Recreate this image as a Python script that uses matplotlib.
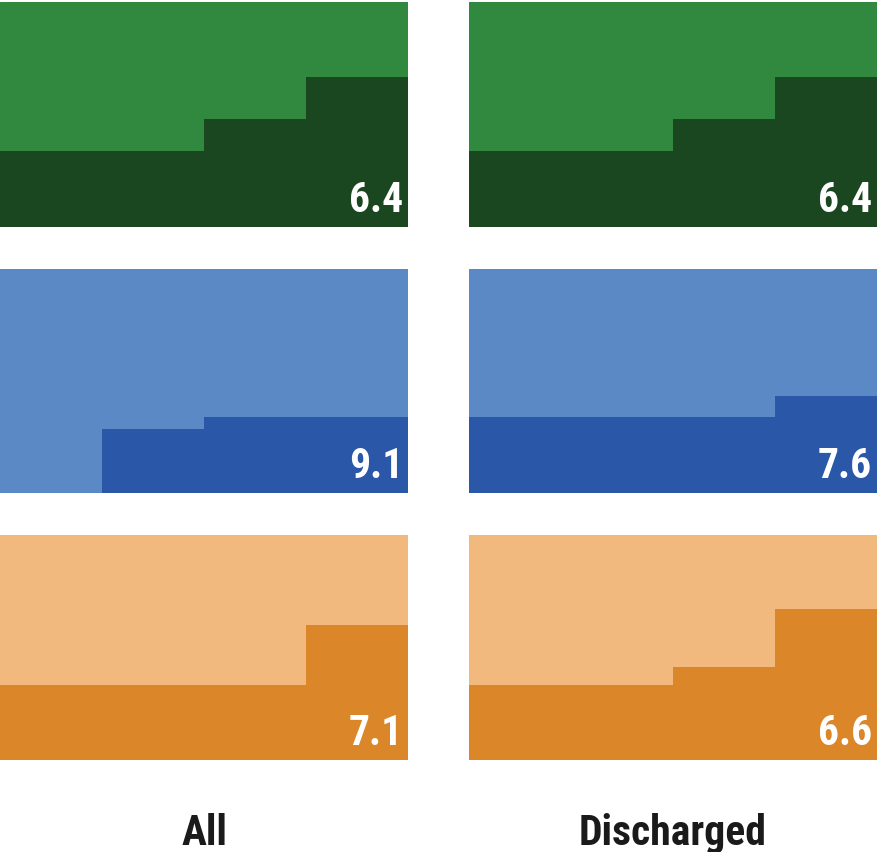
import matplotlib
matplotlib.use("Agg")
import matplotlib.pyplot as plt

plt.rcParams['font.family'] = ['Roboto Condensed', 'DejaVu Sans']

columns = ["All", "Discharged"]
steps = [0, 1, 2, 3]
green_all = [0.338, 0.338, 0.48, 0.667]
green_dis = [0.338, 0.338, 0.48, 0.667]
blue_all = [0.0, 0.286, 0.339, 0.339]
blue_dis = [0.339, 0.339, 0.339, 0.433]
orange_all = [0.333, 0.333, 0.333, 0.60]
orange_dis = [0.333, 0.333, 0.413, 0.671]
labels_all = ["6.4", "9.1", "7.1"]
labels_dis = ["6.4", "7.6", "6.6"]

light = ["#31883F", "#5B89C5", "#F2B97E"]
dark = ["#1A4620", "#2A57A8", "#DB8628"]

W, H = 879, 853
fig = plt.figure(figsize=(W / 100, H / 100), dpi=100)

cols_x = [(0, 408), (469, 877)]
rows_y = [(3, 228), (270, 494), (536, 761)]
data = [[green_all, green_dis], [blue_all, blue_dis], [orange_all, orange_dis]]
labs = [labels_all, labels_dis]

for r, (y0, y1) in enumerate(rows_y):
    for c, (x0, x1) in enumerate(cols_x):
        ax = fig.add_axes([x0 / W, 1 - y1 / H, (x1 - x0) / W, (y1 - y0) / H])
        ax.bar(steps, data[r][c], width=1.0, color=dark[r], linewidth=0)
        ax.set_xlim(-0.5, 3.5)
        ax.set_ylim(0, 1)
        ax.axis("off")
        ax.add_patch(plt.Rectangle((0, 0), 1, 1, transform=ax.transAxes,
                                   color=light[r], zorder=-1))
        ax.text(0.988, 0.03, labs[c][r], transform=ax.transAxes, ha="right",
                va="bottom", color="white", fontsize=30, fontweight="bold")

for c, (x0, x1) in enumerate(cols_x):
    fig.text((x0 + x1) / 2 / W, 1 - 834 / H, columns[c], ha="center", va="center",
             fontsize=30, fontweight="bold", color="#1a1a1a")

fig.savefig("out.png", dpi=100)
